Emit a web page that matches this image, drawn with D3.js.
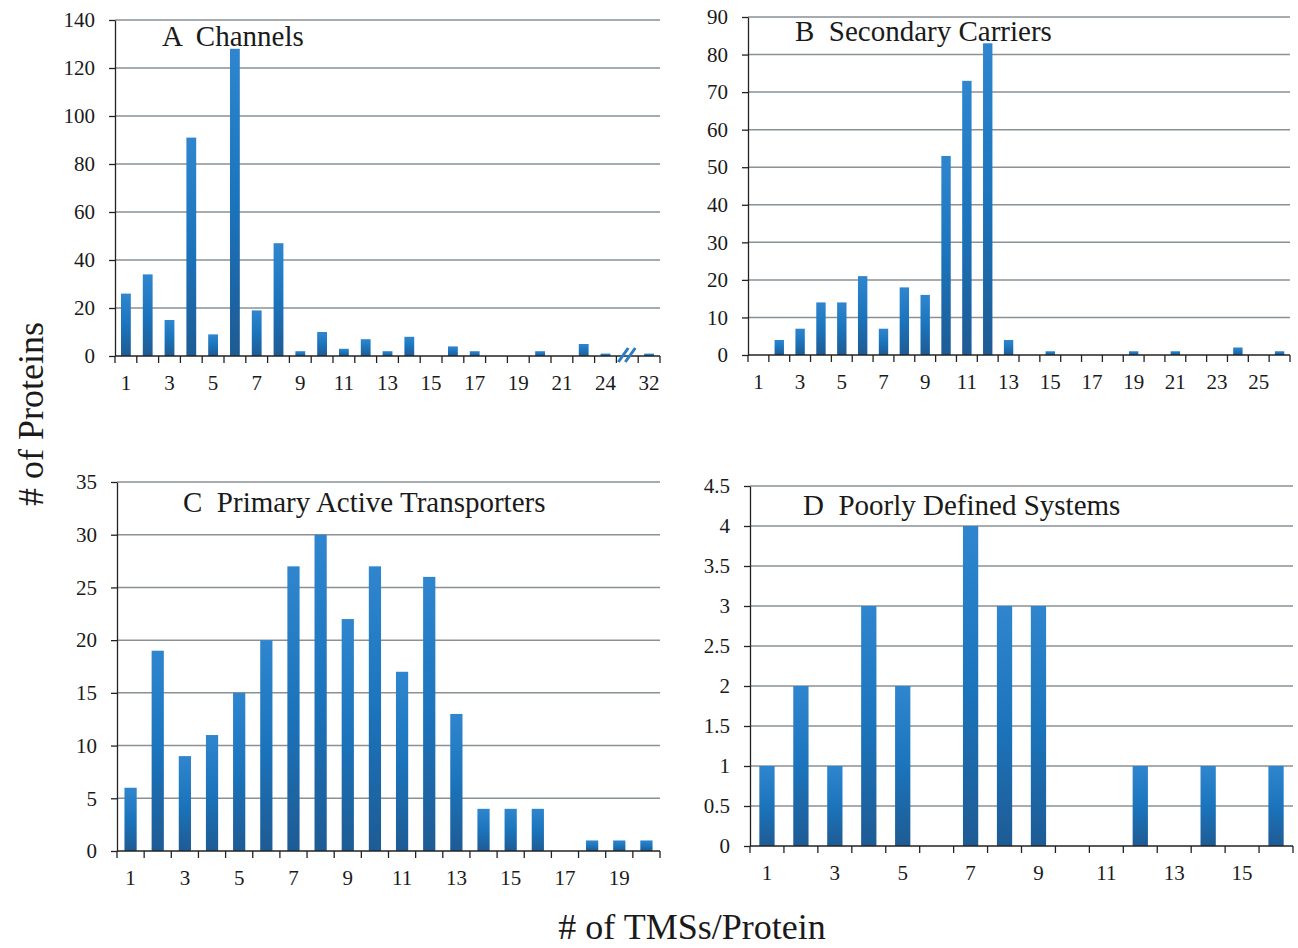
<!DOCTYPE html>
<html>
<head>
<meta charset="utf-8">
<script src="https://cdn.jsdelivr.net/npm/d3@7"></script>
<style>
  body { margin: 0; background: #fff; }
  svg { display: block; font-family: "Liberation Serif", "Times New Roman", serif; }
  .grid line { stroke: #899195; stroke-width: 1.5; }
  .axis path, .axis line { stroke: #222; stroke-width: 1.3; }
  .axis text { font-size: 21px; fill: #1a1a1a; font-family: "Liberation Serif", serif; }
  .ptitle { font-size: 29px; fill: #1a1a1a; white-space: pre; }
  .atitle { font-size: 36px; fill: #1a1a1a; }
</style>
</head>
<body>
<div id="chart"></div>
<script>
// panel A - channels
var catsA = ["1","2","3","4","5","6","7","8","9","10","11","12","13","14","15","16","17","18","19","20","21","22","24","//","32"];
var valsA = [26, 34, 15, 91, 9, 128, 19, 47, 2, 10, 3, 7, 2, 8, 0, 4, 2, 0, 0, 2, 0, 5, 1, 0, 1];
var ticksA = [0, 20, 40, 60, 80, 100, 120, 140];

// panel B - secondary carriers
var catsB = d3.range(1, 27).map(String);
var valsB = [0, 4, 7, 14, 14, 21, 7, 18, 16, 53, 73, 83, 4, 0, 1, 0, 0, 0, 1, 0, 1, 0, 0, 2, 0, 1];
var ticksB = [0, 10, 20, 30, 40, 50, 60, 70, 80, 90];

// panel C - primary active transporters
var catsC = d3.range(1, 21).map(String);
var valsC = [6, 19, 9, 11, 15, 20, 27, 30, 22, 27, 17, 26, 13, 4, 4, 4, 0, 1, 1, 1];
var ticksC = [0, 5, 10, 15, 20, 25, 30, 35];

// panel D - poorly defined systems
var catsD = d3.range(1, 17).map(String);
var valsD = [1, 2, 1, 3, 2, 0, 4, 3, 3, 0, 0, 1, 0, 1, 0, 1];
var ticksD = [0, 0.5, 1, 1.5, 2, 2.5, 3, 3.5, 4, 4.5];

var titles = ["A  Channels", "B  Secondary Carriers", "C  Primary Active Transporters", "D  Poorly Defined Systems"];
var breakCat = "//";

var W = 1298, H = 948;

var svg = d3.select('#chart').append('svg')
    .attr('width', W)
    .attr('height', H);

// bar fill, lighter at top and darker at the base
var grad = svg.append('defs').append('linearGradient')
    .attr('id', 'barGrad')
    .attr('x1', 0).attr('y1', 0).attr('x2', 0).attr('y2', 1);
grad.append('stop').attr('offset', '0%').attr('stop-color', '#2f86cf');
grad.append('stop').attr('offset', '50%').attr('stop-color', '#1b74bc');
grad.append('stop').attr('offset', '100%').attr('stop-color', '#1e5b94');

var panels = [
    {cats: catsA, vals: valsA, ticks: ticksA, title: titles[0], x0: 115, x1: 660, yTop: 20, yBot: 356, tx: 162, ty: 46},
    {cats: catsB, vals: valsB, ticks: ticksB, title: titles[1], x0: 748, x1: 1290, yTop: 17, yBot: 355, tx: 795, ty: 41},
    {cats: catsC, vals: valsC, ticks: ticksC, title: titles[2], x0: 117, x1: 660, yTop: 482, yBot: 851, tx: 183, ty: 512},
    {cats: catsD, vals: valsD, ticks: ticksD, title: titles[3], x0: 750, x1: 1293, yTop: 486, yBot: 846, tx: 803, ty: 515}
];

panels.forEach(function(p) {
    var g = svg.append('g');

    var x = d3.scaleBand()
        .domain(p.cats)
        .range([p.x0, p.x1])
        .paddingInner(0.55)
        .paddingOuter(0.275);

    var y = d3.scaleLinear()
        .domain([0, d3.max(p.ticks)])
        .range([p.yBot, p.yTop]);

    // gridlines
    g.append('g')
        .attr('class', 'grid')
        .selectAll('line')
        .data(p.ticks.filter(function(t) { return t > 0; }))
        .enter().append('line')
        .attr('x1', p.x0)
        .attr('x2', p.x1)
        .attr('y1', function(d) { return y(d); })
        .attr('y2', function(d) { return y(d); });

    // bars
    g.append('g').selectAll('rect')
        .data(p.cats.map(function(c, i) { return {cat: c, v: p.vals[i]}; }))
        .enter().append('rect')
        .attr('x', function(d) { return x(d.cat); })
        .attr('y', function(d) { return y(d.v); })
        .attr('width', x.bandwidth())
        .attr('height', function(d) { return y(0) - y(d.v); })
        .attr('fill', 'url(#barGrad)');

    // y axis
    g.append('g')
        .attr('class', 'axis')
        .attr('transform', 'translate(' + p.x0 + ',0)')
        .call(d3.axisLeft(y).tickValues(p.ticks).tickSize(6).tickSizeOuter(0).tickPadding(14)
            .tickFormat(function(d) { return String(d); }));

    // x axis: labels on every other category, ticks on the category edges
    var xa = g.append('g')
        .attr('class', 'axis')
        .attr('transform', 'translate(0,' + p.yBot + ')')
        .call(d3.axisBottom(x)
            .tickValues(p.cats.filter(function(c, i) { return i % 2 === 0; }))
            .tickSize(0).tickPadding(19));
    xa.select('.domain').attr('d', 'M' + p.x0 + ',0H' + p.x1);

    var step = x.step();
    xa.selectAll('.edge')
        .data(d3.range(p.cats.length + 1))
        .enter().append('line')
        .attr('class', 'edge')
        .attr('x1', function(i) { return x(p.cats[0]) - step * 0.275 + i * step; })
        .attr('x2', function(i) { return x(p.cats[0]) - step * 0.275 + i * step; })
        .attr('y1', 0)
        .attr('y2', 7);

    // axis break mark
    if (p.cats.indexOf(breakCat) >= 0) {
        var bx = x(breakCat) + x.bandwidth() / 2;
        g.append('g').selectAll('line')
            .data([-4, 3])
            .enter().append('line')
            .attr('x1', function(d) { return bx + d - 5; })
            .attr('x2', function(d) { return bx + d + 5; })
            .attr('y1', p.yBot + 6)
            .attr('y2', p.yBot - 8)
            .attr('stroke', '#2a7cc4')
            .attr('stroke-width', 3);
    }

    g.append('text')
        .attr('class', 'ptitle')
        .attr('x', p.tx)
        .attr('y', p.ty)
        .text(p.title);
});

svg.append('text')
    .attr('class', 'atitle')
    .attr('transform', 'translate(43,414) rotate(-90)')
    .attr('text-anchor', 'middle')
    .text('# of Proteins');

svg.append('text')
    .attr('class', 'atitle')
    .attr('x', 692)
    .attr('y', 939)
    .attr('text-anchor', 'middle')
    .text('# of TMSs/Protein');
</script>
</body>
</html>
